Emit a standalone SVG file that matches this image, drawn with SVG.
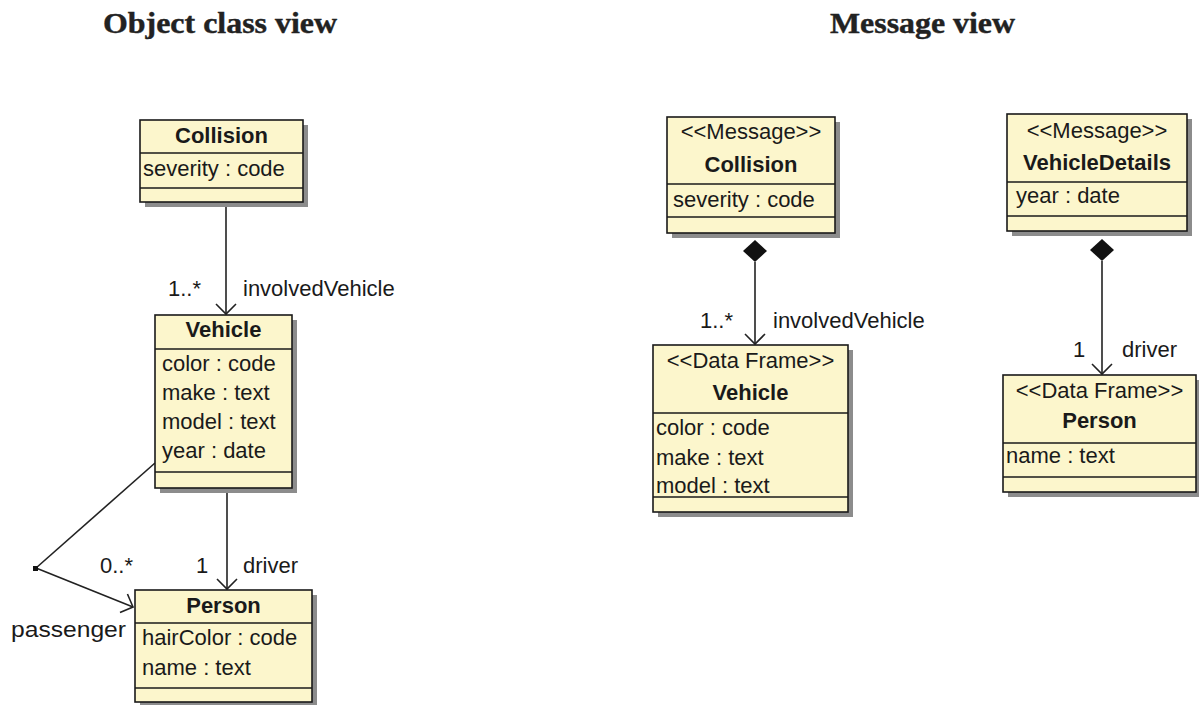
<svg xmlns="http://www.w3.org/2000/svg" width="1199" height="705" viewBox="0 0 1199 705">
<defs>
<style>
.box{fill:#fcf6cc;stroke:#1a1a1a;stroke-width:1.6}
.sh{fill:#8c8c8c}
.div{stroke:#1a1a1a;stroke-width:1.6}
.t{font-family:"Liberation Sans",Arial,sans-serif;font-size:22px;fill:#1a1a1a}
.b{font-family:"Liberation Sans",Arial,sans-serif;font-size:22px;font-weight:bold;fill:#1a1a1a}
.c{text-anchor:middle}
.title{font-family:"Liberation Serif","Times New Roman",serif;font-size:29px;font-weight:bold;fill:#222;stroke:#222;stroke-width:0.4}
.ln{stroke:#222;stroke-width:1.6;fill:none}
</style>
<marker id="open" viewBox="-12 -12 14 24" refX="0" refY="0" markerWidth="14" markerHeight="24" markerUnits="userSpaceOnUse" orient="auto">
<path d="M-10,-10 L0,0 L-10,10" fill="none" stroke="#222" stroke-width="1.6"/>
</marker>
</defs>
<rect width="1199" height="705" fill="#ffffff"/>

<text class="title" x="103" y="33" textLength="234" lengthAdjust="spacingAndGlyphs">Object class view</text>
<text class="title" x="830" y="33" textLength="185" lengthAdjust="spacingAndGlyphs">Message view</text>

<g id="connectors">
<line class="ln" x1="226" y1="202" x2="226" y2="314" marker-end="url(#open)"/>
<line class="ln" x1="227" y1="488" x2="227" y2="589" marker-end="url(#open)"/>
<polyline class="ln" points="155,463 36,568"/>
<line class="ln" x1="36" y1="568" x2="133" y2="607" marker-end="url(#open)"/>
<rect x="33" y="566" width="5" height="5" fill="#111"/>
<line class="ln" x1="755" y1="262" x2="755" y2="344" marker-end="url(#open)"/>
<polygon points="755,240 767,251 755,262 743,251" fill="#111"/>
<line class="ln" x1="1102" y1="261" x2="1102" y2="374" marker-end="url(#open)"/>
<polygon points="1102,239 1114,250 1102,261 1090,250" fill="#111"/>
<text class="t" x="168" y="296">1..*</text>
<text class="t" x="243" y="296">involvedVehicle</text>
<text class="t" x="100" y="573">0..*</text>
<text class="t" x="196" y="573">1</text>
<text class="t" x="243" y="573">driver</text>
<text class="t" x="11" y="637" textLength="115" lengthAdjust="spacingAndGlyphs">passenger</text>
<text class="t" x="700" y="328">1..*</text>
<text class="t" x="773" y="328">involvedVehicle</text>
<text class="t" x="1073" y="357">1</text>
<text class="t" x="1122" y="357">driver</text>
</g>

<g id="collision-obj">
<rect class="sh" x="145" y="125" width="163" height="82"/>
<rect class="box" x="140" y="120" width="163" height="82"/>
<line class="div" x1="140" y1="153" x2="303" y2="153"/>
<line class="div" x1="140" y1="188" x2="303" y2="188"/>
<text class="b c" x="221.5" y="143">Collision</text>
<text class="t" x="143" y="176">severity : code</text>
</g>

<g id="vehicle-obj">
<rect class="sh" x="160" y="320" width="137" height="173"/>
<rect class="box" x="155" y="315" width="137" height="173"/>
<line class="div" x1="155" y1="349" x2="292" y2="349"/>
<line class="div" x1="155" y1="472" x2="292" y2="472"/>
<text class="b c" x="223.5" y="337">Vehicle</text>
<text class="t" x="162" y="371">color : code</text>
<text class="t" x="162" y="400">make : text</text>
<text class="t" x="162" y="429">model : text</text>
<text class="t" x="162" y="458">year : date</text>
</g>

<g id="person-obj">
<rect class="sh" x="140" y="595" width="177" height="112"/>
<rect class="box" x="135" y="590" width="177" height="112"/>
<line class="div" x1="135" y1="623" x2="312" y2="623"/>
<line class="div" x1="135" y1="688" x2="312" y2="688"/>
<text class="b c" x="223.5" y="613">Person</text>
<text class="t" x="142" y="645">hairColor : code</text>
<text class="t" x="142" y="675">name : text</text>
</g>

<g id="collision-msg">
<rect class="sh" x="672" y="122" width="168" height="116"/>
<rect class="box" x="667" y="117" width="168" height="116"/>
<line class="div" x1="667" y1="184" x2="835" y2="184"/>
<line class="div" x1="667" y1="217" x2="835" y2="217"/>
<text class="t c" x="751" y="139">&lt;&lt;Message&gt;&gt;</text>
<text class="b c" x="751" y="172">Collision</text>
<text class="t" x="673" y="207">severity : code</text>
</g>

<g id="vehicle-df">
<rect class="sh" x="658" y="350" width="195" height="167"/>
<rect class="box" x="653" y="345" width="195" height="167"/>
<line class="div" x1="653" y1="413" x2="848" y2="413"/>
<line class="div" x1="653" y1="497" x2="848" y2="497"/>
<text class="t c" x="750.5" y="368">&lt;&lt;Data Frame&gt;&gt;</text>
<text class="b c" x="750.5" y="400">Vehicle</text>
<text class="t" x="656" y="435">color : code</text>
<text class="t" x="656" y="465">make : text</text>
<text class="t" x="656" y="493">model : text</text>
</g>

<g id="vehicledetails-msg">
<rect class="sh" x="1012" y="119" width="180" height="117"/>
<rect class="box" x="1007" y="114" width="180" height="117"/>
<line class="div" x1="1007" y1="182" x2="1187" y2="182"/>
<line class="div" x1="1007" y1="216" x2="1187" y2="216"/>
<text class="t c" x="1097" y="138">&lt;&lt;Message&gt;&gt;</text>
<text class="b c" x="1097" y="170">VehicleDetails</text>
<text class="t" x="1016" y="203">year : date</text>
</g>

<g id="person-df">
<rect class="sh" x="1008" y="380" width="191" height="117"/>
<rect class="box" x="1003" y="375" width="193" height="117"/>
<line class="div" x1="1003" y1="443" x2="1196" y2="443"/>
<line class="div" x1="1003" y1="477" x2="1196" y2="477"/>
<text class="t c" x="1099.5" y="398">&lt;&lt;Data Frame&gt;&gt;</text>
<text class="b c" x="1099.5" y="428">Person</text>
<text class="t" x="1006" y="463">name : text</text>
</g>
</svg>
